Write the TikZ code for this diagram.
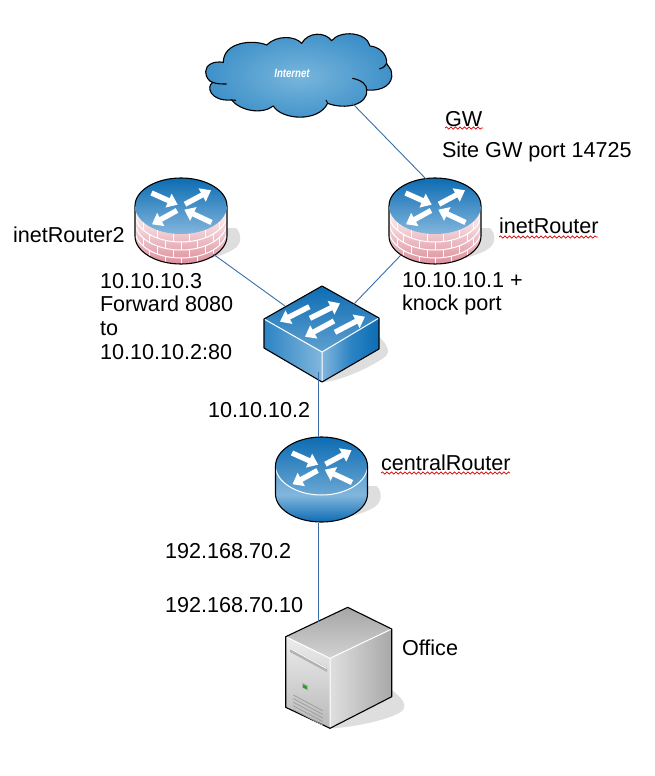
\documentclass[tikz,border=0pt]{standalone}
\usepackage{fontspec}
\setmainfont{Liberation Sans}
\usetikzlibrary{arrows.meta,decorations.pathmorphing}
\definecolor{dkblue}{HTML}{0D6CB3}
\definecolor{ltblue}{HTML}{82B6DC}
\definecolor{midblue}{HTML}{2C84C4}
\definecolor{cloudin}{HTML}{78B6DC}
\definecolor{cloudout}{HTML}{1274BA}
\definecolor{linkblue}{HTML}{3A6EA8}
\definecolor{shadowgray}{HTML}{DEDEDE}
\definecolor{brickdark}{HTML}{DE8F9C}
\pgfdeclareradialshading{cloudshade}{\pgfpoint{0bp}{0bp}}{color(0bp)=(cloudin); color(44bp)=(cloudout); color(50bp)=(cloudout)}
\pgfdeclareverticalshading{routerbody}{100bp}{color(0bp)=(dkblue); color(25bp)=(dkblue); color(41bp)=(ltblue); color(75bp)=(midblue); color(100bp)=(midblue)}
\tikzset{
  x=1pt,y=-1pt,
  lbl/.style={inner sep=0pt,outer sep=0pt,anchor=north west,align=left,text=black,font=\fontsize{21.6}{23.7}\selectfont},
  link/.style={draw=linkblue,line width=0.9pt},
  edgeline/.style={draw=black,line width=1.1pt,line join=round},
  whitearrow/.style={draw=white,line width=5.3pt,-{Triangle[length=10pt,width=14.5pt]}},
  softshadow/.style={fill=shadowgray,draw=none},
  squiggle/.style={draw=red!85!black,line width=0.7pt,decorate,decoration={snake,segment length=4.5pt,amplitude=1.1pt}},
  routerarrows/.pic={
    \draw[whitearrow] (-29.5,-13) -- (-3.3,-1.3);
    \draw[whitearrow] (4,-1.8) -- (30,-15.7);
    \draw[whitearrow] (-4,4.5) -- (-29,18.3);
    \draw[whitearrow] (30.5,16.5) -- (3.3,3.7);
  },
  firewallrouter/.pic={
    \fill[softshadow] (46,22) -- (55,22) .. controls (61,28) and (61,38) .. (53,43) .. controls (47,47) and (38,50) .. (30,52) -- cycle;
    \begin{scope}
      \clip (-46,0) -- (-46,30) .. controls (-46,45.5) and (-25.4,58) .. (0,58) .. controls (25.4,58) and (46,45.5) .. (46,30) -- (46,0) -- cycle;
      \shade[top color=white,bottom color=brickdark] (-46,0) rectangle (46,58);
      \foreach \k in {8,16,24}{
        \draw[white,line width=1pt] (-46,\k) .. controls (-46,\k+15.5) and (-25.4,\k+28) .. (0,\k+28) .. controls (25.4,\k+28) and (46,\k+15.5) .. (46,\k);
      }
      \foreach \xx/\k in {-38/0,-24/0,-8/0,8/0,24/0,38/0,-32/8,-16/8,0/8,16/8,32/8,-38/16,-24/16,-8/16,8/16,24/16,38/16,-32/24,-16/24,0/24,16/24,32/24}{
        \pgfmathsetmacro{\yy}{28*sqrt(1-(\xx/46)^2)+\k}
        \draw[white,line width=1pt] (\xx,\yy) -- (\xx,\yy+8);
      }
    \end{scope}
    \path[edgeline] (-46,0) -- (-46,30) .. controls (-46,45.5) and (-25.4,58) .. (0,58) .. controls (25.4,58) and (46,45.5) .. (46,30) -- (46,0);
    \shade[top color=dkblue,bottom color=ltblue] (-46,0) .. controls (-46,-15.5) and (-25.4,-28) .. (0,-28) .. controls (25.4,-28) and (46,-15.5) .. (46,0) .. controls (46,15.5) and (25.4,28) .. (0,28) .. controls (-25.4,28) and (-46,15.5) .. (-46,0) -- cycle;
    \path[edgeline] (-46,0) .. controls (-46,-15.5) and (-25.4,-28) .. (0,-28) .. controls (25.4,-28) and (46,-15.5) .. (46,0);
    \pic {routerarrows};
  }
}
\begin{document}
\begin{tikzpicture}
\useasboundingbox (0,0) rectangle (654,776);
\fill[white] (0,0) rectangle (654,776);

% cloud
\begin{scope}[shift={(190,20)},scale=0.3333]
  \shade[shading=cloudshade] (100,127) .. controls (70,122) and (47,135) .. (47,155) .. controls (47,172) and (58,185) .. (68,187)
    .. controls (48,200) and (60,245) .. (125,240) .. controls (150,272) and (215,285) .. (250,258) .. controls (275,300) and (385,308) .. (413,250)
    .. controls (465,270) and (535,255) .. (530,210) .. controls (580,215) and (610,190) .. (605,160) .. controls (605,145) and (592,138) .. (590,130)
    .. controls (592,100) and (565,80) .. (540,78) .. controls (530,35) and (450,30) .. (425,62) .. controls (405,35) and (355,35) .. (335,70)
    .. controls (315,47) and (260,45) .. (230,75) .. controls (190,58) and (100,65) .. (100,127) -- cycle;
  \draw[edgeline] (100,127) .. controls (70,122) and (47,135) .. (47,155) .. controls (47,172) and (58,185) .. (68,187)
    .. controls (48,200) and (60,245) .. (125,240) .. controls (150,272) and (215,285) .. (250,258) .. controls (275,300) and (385,308) .. (413,250)
    .. controls (465,270) and (535,255) .. (530,210) .. controls (580,215) and (610,190) .. (605,160) .. controls (605,145) and (592,138) .. (590,130)
    .. controls (592,100) and (565,80) .. (540,78) .. controls (530,35) and (450,30) .. (425,62) .. controls (405,35) and (355,35) .. (335,70)
    .. controls (315,47) and (260,45) .. (230,75) .. controls (190,58) and (100,65) .. (100,127) -- cycle;
  \draw[edgeline] (68,187) .. controls (80,192) and (95,192) .. (110,192);
  \draw[edgeline] (125,240) -- (138,241);
  \draw[edgeline] (413,250) -- (408,240);
  \draw[edgeline] (487,175) .. controls (515,180) and (532,195) .. (530,210);
  \draw[edgeline] (568,147) .. controls (580,143) and (588,138) .. (590,130);
\end{scope}
\node[inner sep=0pt,text=white,font=\fontsize{12}{14}\selectfont\itshape\bfseries,xscale=0.8] (cloudlabel) at (292,73) {Internet};

% firewall routers
\pic at (181,206) {firewallrouter};
\pic at (435,206) {firewallrouter};

% switch
\fill[softshadow] (379,337) .. controls (388,345) and (390,352) .. (386,356) .. controls (375,365) and (340,382) .. (322,382) -- cycle;
\shade[top color=dkblue,bottom color=ltblue!70!dkblue] (322,286) -- (379,318) -- (322,352) -- (264,319) -- cycle;
\shade[left color=midblue,right color=ltblue] (264,319) -- (322,352) -- (322,382) -- (264,348) -- cycle;
\shade[left color=ltblue,right color=dkblue,middle color=midblue] (322,352) -- (379,318) -- (379,349) -- (322,382) -- cycle;
\draw[white,line width=1pt] (264,319) -- (322,352) -- (379,318) (322,352) -- (322,382);
\draw[edgeline] (264,319) -- (322,286) -- (379,318) -- (379,349) -- (322,382) -- (264,348) -- cycle;
\draw[whitearrow] (309.3,306.7) -- (280,321.7);
\draw[whitearrow] (310,318.3) -- (340,303.3);
\draw[whitearrow] (334,321) -- (305,336.7);
\draw[whitearrow] (335,332.3) -- (365,316.7);

% central router
\begin{scope}[shift={(321.5,466)}]
  \fill[softshadow] (46,20) -- (55,20) .. controls (61,26) and (61,36) .. (53,41) .. controls (47,45) and (38,48) .. (30,50) -- cycle;
  \shade[shading=routerbody] (-46,0) -- (-46,28) .. controls (-46,43.5) and (-25.4,56) .. (0,56) .. controls (25.4,56) and (46,43.5) .. (46,28) -- (46,0) .. controls (46,-15.5) and (25.4,-29) .. (0,-29) .. controls (-25.4,-29) and (-46,-15.5) .. (-46,0) -- cycle;
  \shade[top color=dkblue,bottom color=ltblue!80!dkblue] (-46,0) .. controls (-46,-15.5) and (-25.4,-29) .. (0,-29) .. controls (25.4,-29) and (46,-15.5) .. (46,0) .. controls (46,15.5) and (25.4,29) .. (0,29) .. controls (-25.4,29) and (-46,15.5) .. (-46,0) -- cycle;
  \draw[white,line width=1pt] (-46,0) .. controls (-46,15.5) and (-25.4,29) .. (0,29) .. controls (25.4,29) and (46,15.5) .. (46,0);
  \draw[edgeline] (-46,0) -- (-46,28) .. controls (-46,43.5) and (-25.4,56) .. (0,56) .. controls (25.4,56) and (46,43.5) .. (46,28) -- (46,0) .. controls (46,-15.5) and (25.4,-29) .. (0,-29) .. controls (-25.4,-29) and (-46,-15.5) .. (-46,0) -- cycle;
  \pic {routerarrows};
\end{scope}

% server
\fill[softshadow] (391.7,690) .. controls (402,698) and (408,705) .. (402,711) .. controls (390,720) and (350,728) .. (330,728.3) -- cycle;
\shade[top color=gray!70,bottom color=gray!35] (347.7,607.3) -- (391.7,629) -- (330,658.3) -- (285.7,636.7) -- cycle;
\shade[top color=gray!15,bottom color=gray!55] (285.7,636.7) -- (330,658.3) -- (330,728.3) -- (285.7,707.3) -- cycle;
\shade[left color=gray!25,right color=gray!68] (330,658.3) -- (391.7,629) -- (391.7,696.7) -- (330,728.3) -- cycle;
\draw[white,line width=1pt] (285.7,636.7) -- (330,658.3) -- (391.7,629) (330,658.3) -- (330,728.3);
\draw[edgeline] (285.7,636.7) -- (347.7,607.3) -- (391.7,629) -- (391.7,696.7) -- (330,728.3) -- (285.7,707.3) -- cycle;
\fill[gray!60] (290,648) -- (327,668) -- (327,672) -- (290,652) -- cycle;
\draw[white,line width=0.8pt] (290,648.5) -- (326.5,668.5);
\fill[gray!60] (302,682.5) -- (308,685.5) -- (308,690.5) -- (302,687.5) -- cycle;
\fill[green!55!black!85] (303.2,684.5) -- (306.8,686.3) -- (306.8,689.3) -- (303.2,687.5) -- cycle;
\foreach \d in {0,3.6,7.2,10.8,14.4}{
  \draw[gray!75,line width=0.8pt] (293.3,695+\d) -- (322.7,710.7+\d);
}

% connectors
\coordinate (cloudport) at (352.5,103.5);
\coordinate (inetTop) at (427,180);
\coordinate (r2port) at (213,254);
\coordinate (swLeft) at (285,306);
\coordinate (inetPort) at (401,255);
\coordinate (swRight) at (352,306);
\coordinate (swBottom) at (318.6,372);
\coordinate (centralTop) at (318.6,437);
\coordinate (centralBottom) at (318.6,523);
\coordinate (serverTop) at (318.6,622);
\draw[link] (cloudport) -- (inetTop);
\draw[link] (r2port) -- (swLeft);
\draw[link] (inetPort) -- (swRight);
\draw[link] (swBottom) -- (centralTop);
\draw[link] (centralBottom) -- (serverTop);

% labels
\node[lbl] (gw) at (445,111) {GW};
\node[lbl] (site) at (442,142) {Site GW port 14725};
\node[lbl] (r2name) at (13,227) {inetRouter2};
\node[lbl] (r1name) at (499,218) {inetRouter};
\node[lbl] (r2addr) at (100,273) {10.10.10.3\\Forward 8080\\to\\10.10.10.2:80};
\node[lbl] (r1addr) at (402,272) {10.10.10.1 +\\knock port};
\node[lbl] (swaddr) at (208,402) {10.10.10.2};
\node[lbl] (centralname) at (381,455) {centralRouter};
\node[lbl] (caddr) at (165,543) {192.168.70.2};
\node[lbl] (oaddr) at (165,597) {192.168.70.10};
\node[lbl] (office) at (402,640) {Office};
\draw[squiggle] (445,128) -- (483,128);
\draw[squiggle] (499,237) -- (598,237);
\draw[squiggle] (381,473) -- (510,473);
\end{tikzpicture}
\end{document}
